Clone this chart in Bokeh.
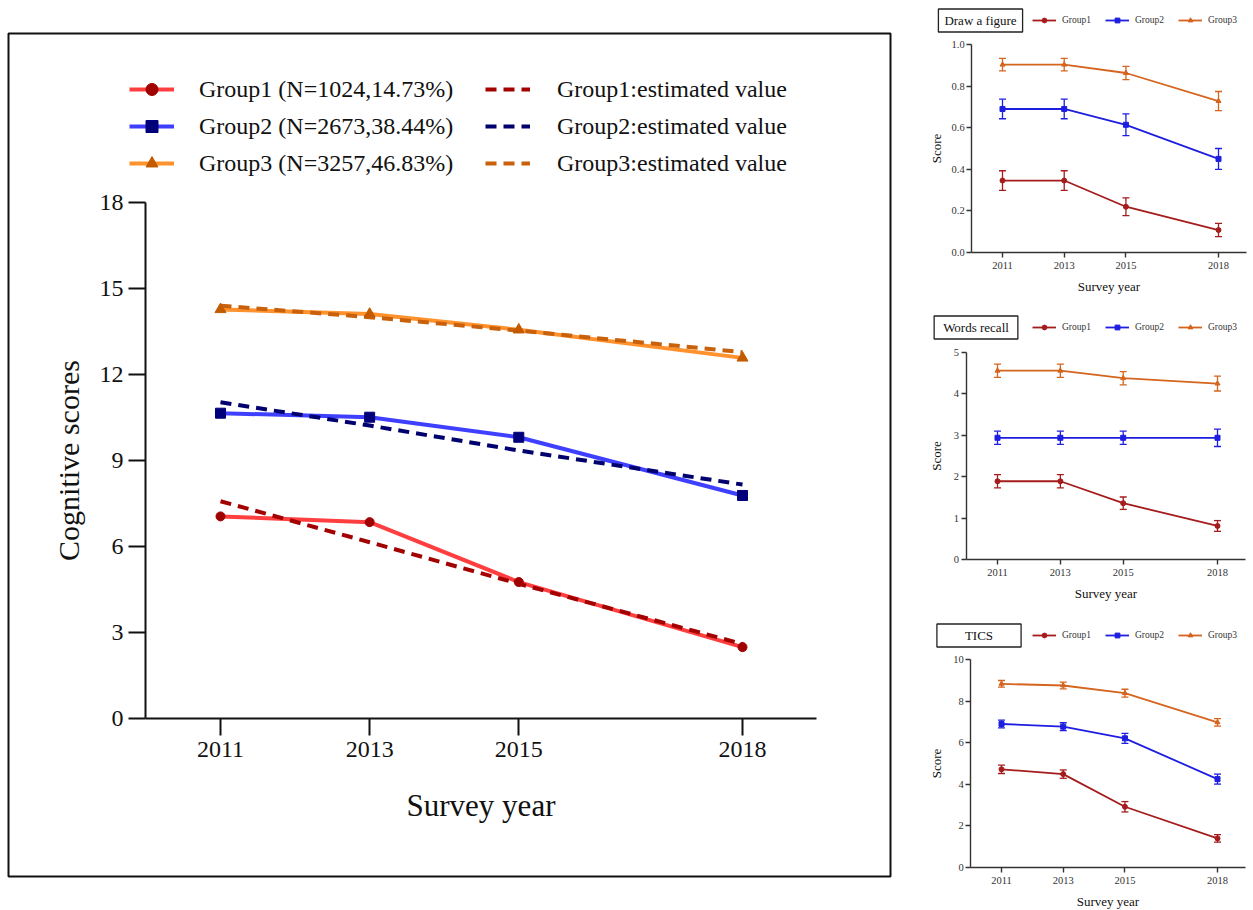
import math
from bokeh.plotting import figure
from bokeh.models import (Range1d, FixedTicker, Legend, LegendItem, Label,
                          Whisker, TeeHead, PrintfTickFormatter, ColumnDataSource)
from bokeh.layouts import row, column
from bokeh.embed import file_html
from bokeh.resources import INLINE

# ---------------- data ----------------
years = [2011, 2013, 2015, 2018]

# main panel: observed trajectories
group1_obs = [7.05, 6.85, 4.76, 2.49]
group2_obs = [10.65, 10.51, 9.81, 7.78]
group3_obs = [14.27, 14.11, 13.56, 12.58]
# main panel: estimated trajectories
group1_est = [7.58, 6.15, 4.70, 2.60]
group2_est = [11.03, 10.22, 9.35, 8.16]
group3_est = [14.40, 14.00, 13.53, 12.78]
obs_labels = ["Group1 (N=1024,14.73%)", "Group2 (N=2673,38.44%)", "Group3 (N=3257,46.83%)"]
est_labels = ["Group1:estimated value", "Group2:estimated value", "Group3:estimated value"]
main_yticks = [0, 3, 6, 9, 12, 15, 18]

# small panels
group_names = ["Group1", "Group2", "Group3"]

draw_g1 = [0.346, 0.346, 0.220, 0.108]
draw_g2 = [0.690, 0.690, 0.614, 0.450]
draw_g3 = [0.903, 0.903, 0.863, 0.728]
draw_g1_err = [0.047, 0.047, 0.043, 0.032]
draw_g2_err = [0.047, 0.047, 0.052, 0.050]
draw_g3_err = [0.030, 0.030, 0.032, 0.046]
draw_yticks = [0.0, 0.2, 0.4, 0.6, 0.8, 1.0]

words_g1 = [1.89, 1.89, 1.36, 0.81]
words_g2 = [2.94, 2.94, 2.94, 2.94]
words_g3 = [4.56, 4.56, 4.38, 4.25]
words_g1_err = [0.16, 0.16, 0.15, 0.13]
words_g2_err = [0.16, 0.16, 0.16, 0.21]
words_g3_err = [0.16, 0.16, 0.16, 0.18]
words_yticks = [0, 1, 2, 3, 4, 5]

tics_g1 = [4.72, 4.49, 2.92, 1.40]
tics_g2 = [6.90, 6.77, 6.21, 4.25]
tics_g3 = [8.83, 8.75, 8.38, 6.98]
tics_g1_err = [0.20, 0.20, 0.25, 0.18]
tics_g2_err = [0.19, 0.19, 0.24, 0.24]
tics_g3_err = [0.16, 0.16, 0.19, 0.18]
tics_yticks = [0, 2, 4, 6, 8, 10]

FONT = "Liberation Serif"
TXT = "#111111"

# ---------------- main panel ----------------
# frame = the boxed area (abs x 8..890, y 33..876)
FW, FH = 882, 843
px_year = 522 / 7.0          # pixels per year
px_unit = 516 / 18.0         # pixels per score unit
X2011 = 212                  # px of 2011 from frame left
Y0 = 158                     # px of score 0 from frame bottom
x0 = 2011 - X2011 / px_year
x1 = x0 + FW / px_year
y0 = -Y0 / px_unit
y1 = y0 + FH / px_unit
yaxis_x = 2011 - 75 / px_year
xaxis_end = 2011 + 596 / px_year

p = figure(width=FW + 4, height=FH + 4, x_range=Range1d(x0, x1), y_range=Range1d(y0, y1),
           output_backend="svg", toolbar_location=None, min_border=2,
           margin=(31, 28, 0, 6))
p.outline_line_color = "#111"
p.outline_line_width = 2
p.grid.visible = False
p.background_fill_color = "white"
p.border_fill_color = "white"

obs_line_colors = ["#ff3535", "#3535ff", "#ff8c22"]
obs_mark_colors = ["#a00000", "#00007a", "#c45a00"]
est_colors = ["#a30000", "#00006e", "#c8600c"]
markers = ["circle", "square", "triangle"]
marker_sizes = [9, 10, 11]
obs_data = [group1_obs, group2_obs, group3_obs]
est_data = [group1_est, group2_est, group3_est]

obs_lines = [p.line(years, d, line_color=c, line_width=4, line_alpha=0.95)
             for d, c in zip(obs_data, obs_line_colors)]
est_lines = [p.line(years, d, line_color=c, line_width=4, line_dash="11 7")
             for d, c in zip(est_data, est_colors)]
obs_marks = [p.scatter(years, d, marker=m, size=s, fill_color=c, line_color=c)
             for d, m, s, c in zip(obs_data, markers, marker_sizes, obs_mark_colors)]


def main_legend(items, loc, standoff):
    return Legend(items=items, location=loc, glyph_width=45, glyph_height=30,
                  label_height=30, spacing=7, label_standoff=standoff, padding=0, margin=0,
                  border_line_color=None, background_fill_alpha=0,
                  label_text_font=FONT, label_text_font_size="24px", label_text_color=TXT)


leg1 = main_legend([LegendItem(label=l, renderers=[ln, mk])
                    for l, ln, mk in zip(obs_labels, obs_lines, obs_marks)], (121, 698), 25)
leg2 = main_legend([LegendItem(label=l, renderers=[ln])
                    for l, ln in zip(est_labels, est_lines)], (477, 698), 27)
p.add_layout(leg1)
p.add_layout(leg2)

p.xaxis.fixed_location = 0
p.yaxis.fixed_location = yaxis_x
p.xaxis.ticker = FixedTicker(ticks=years)
p.yaxis.ticker = FixedTicker(ticks=main_yticks)
p.xaxis.bounds = (yaxis_x, xaxis_end)
p.yaxis.bounds = (0, 18)
for ax in (p.xaxis, p.yaxis):
    ax.axis_line_width = 2
    ax.axis_line_color = "#111"
    ax.major_tick_line_width = 2
    ax.major_tick_line_color = "#111"
    ax.major_tick_out = 17
    ax.major_tick_in = 0
    ax.minor_tick_out = 0
    ax.minor_tick_in = 0
    ax.major_label_text_font = FONT
    ax.major_label_text_font_size = "24px"
    ax.major_label_text_color = TXT
p.xaxis.major_label_standoff = 6
p.yaxis.major_label_standoff = 5

p.add_layout(Label(text="Survey year", x=(145 + 816) / 2 - 8, y=71, x_units="screen", y_units="screen",
                   text_align="center", text_baseline="middle", text_font=FONT,
                   text_font_size="31px", text_color=TXT))
p.add_layout(Label(text="Cognitive scores", x=60, y=Y0 + 9 * px_unit, x_units="screen", y_units="screen",
                   angle=90, angle_units="deg",
                   text_align="center", text_baseline="middle", text_font=FONT,
                   text_font_size="30px", text_color=TXT))

# ---------------- small panels ----------------
small_line_colors = ["#a51c1c", "#1e1ee0", "#d4641e"]
small_markers = ["circle", "square", "triangle"]
SW = 333


def small_panel(title, pad, title_cx, title_cy, vals, errs, yticks, fmt,
                height, zero_from_bottom, px_u, x2011, x2018):
    pxy = (x2018 - x2011) / 7.0
    sx0 = 2011 - x2011 / pxy
    sx1 = sx0 + SW / pxy
    sy0 = -zero_from_bottom / px_u
    sy1 = sy0 + height / px_u
    f = figure(width=SW, height=height, x_range=Range1d(sx0, sx1), y_range=Range1d(sy0, sy1),
               output_backend="svg", toolbar_location=None, min_border=0)
    f.outline_line_color = None
    f.grid.visible = False
    items = []
    for name, v, e, c, m in zip(group_names, vals, errs, small_line_colors, small_markers):
        src = ColumnDataSource(dict(x=years, y=v,
                                    lo=[a - b for a, b in zip(v, e)],
                                    hi=[a + b for a, b in zip(v, e)]))
        wk = Whisker(source=src, base="x", upper="hi", lower="lo", line_color=c, line_width=1.3,
                     upper_head=TeeHead(size=7, line_color=c, line_width=1.3),
                     lower_head=TeeHead(size=7, line_color=c, line_width=1.3))
        f.add_layout(wk)
        ln = f.line("x", "y", source=src, line_color=c, line_width=1.8)
        mk = f.scatter("x", "y", source=src, marker=m, size=5, fill_color=c, line_color=c)
        items.append(LegendItem(label=name, renderers=[ln, mk]))
    lg = Legend(items=items, orientation="horizontal", location=(112, title_cy - 6),
                glyph_width=24, glyph_height=12, label_width=34, label_height=12,
                spacing=9, label_standoff=6, padding=0, margin=0,
                border_line_color=None, background_fill_alpha=0,
                label_text_font=FONT, label_text_font_size="9.5px", label_text_color="#333")
    f.add_layout(lg)
    f.add_layout(Label(text=title, x=title_cx, y=title_cy, x_units="screen", y_units="screen",
                       text_align="center", text_baseline="middle", text_font=FONT,
                       text_font_size="13px", text_color=TXT,
                       border_line_color="#222", border_line_width=1.3,
                       background_fill_color="white", padding=pad))
    ytop_px = zero_from_bottom + yticks[-1] * px_u
    yaxis_px = x2011 - pxy
    end_px = 2018.9
    f.add_layout(Label(text="Score", x=16, y=(zero_from_bottom + ytop_px) / 2,
                       x_units="screen", y_units="screen", angle=90, angle_units="deg",
                       text_align="center", text_baseline="middle", text_font=FONT,
                       text_font_size="13px", text_color=TXT))
    f.add_layout(Label(text="Survey year", x=(yaxis_px + x2011 + (end_px - 2011) * pxy) / 2,
                       y=zero_from_bottom - 34,
                       x_units="screen", y_units="screen",
                       text_align="center", text_baseline="middle", text_font=FONT,
                       text_font_size="13px", text_color=TXT))
    f.xaxis.fixed_location = 0
    f.yaxis.fixed_location = 2010
    f.xaxis.ticker = FixedTicker(ticks=years)
    f.yaxis.ticker = FixedTicker(ticks=yticks)
    f.yaxis.formatter = PrintfTickFormatter(format=fmt)
    f.xaxis.bounds = (2010, end_px)
    f.yaxis.bounds = (yticks[0], yticks[-1])
    for ax in (f.xaxis, f.yaxis):
        ax.axis_line_width = 1.4
        ax.axis_line_color = "#333"
        ax.major_tick_line_width = 1.4
        ax.major_tick_line_color = "#333"
        ax.major_tick_out = 5
        ax.major_tick_in = 0
        ax.minor_tick_out = 0
        ax.minor_tick_in = 0
        ax.major_label_text_font = FONT
        ax.major_label_text_font_size = "10.5px"
        ax.major_label_text_color = "#333"
    f.xaxis.major_label_standoff = 4
    f.yaxis.major_label_standoff = 2
    return f


p1 = small_panel("Draw a figure", (6, 4), 60, 280, [draw_g1, draw_g2, draw_g3],
                 [draw_g1_err, draw_g2_err, draw_g3_err], draw_yticks, "%.1f",
                 300, 48, 208.0, 82, 298)
p2 = small_panel("Words recall", (9, 4), 55.5, 278, [words_g1, words_g2, words_g3],
                 [words_g1_err, words_g2_err, words_g3_err], words_yticks, "%d",
                 305, 46, 207 / 5.0, 77, 297)
p3 = small_panel("TICS", (28, 4), 58.5, 275, [tics_g1, tics_g2, tics_g3],
                 [tics_g1_err, tics_g2_err, tics_g3_err], tics_yticks, "%d",
                 305, 43, 208 / 10.0, 81, 297)

layout = row(p, column(p1, p2, p3, spacing=0), spacing=0)

open("out.html", "w").write(file_html(layout, INLINE))
